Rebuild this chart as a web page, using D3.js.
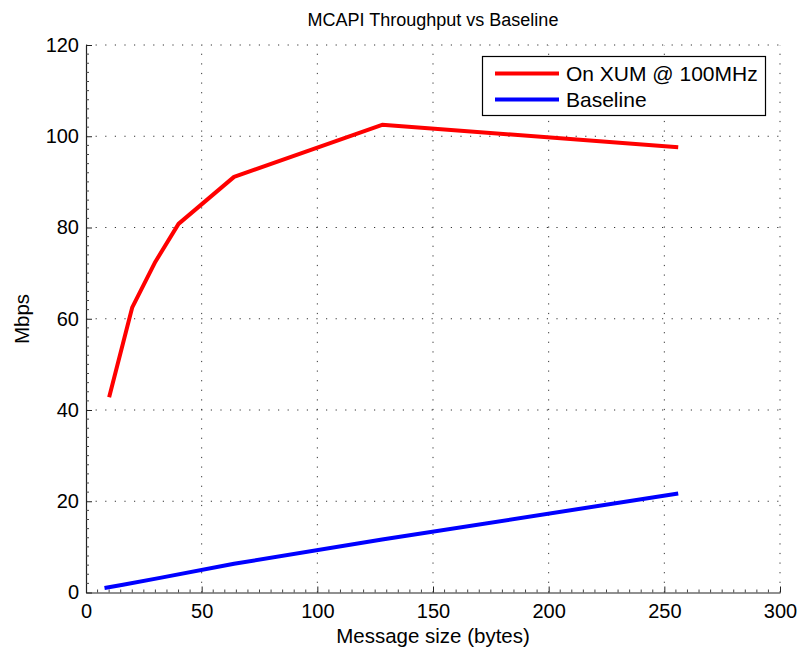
<!DOCTYPE html>
<html>
<head>
<meta charset="utf-8">
<script src="https://cdn.jsdelivr.net/npm/d3@7/dist/d3.min.js"></script>
<style>
  html, body { margin: 0; padding: 0; background: #fff; }
  svg { display: block; font-family: "Liberation Sans", Arial, sans-serif; }
</style>
</head>
<body>
<svg id="chart" width="804" height="656"></svg>
<script>
// ---- data ----
const redX = [10, 20, 30, 40, 64, 128, 256];
const redY = [42.8, 62.5, 72.5, 80.8, 91.1, 102.5, 97.6];
const blueX = [8, 16, 32, 64, 128, 256];
const blueY = [1.0, 1.7, 3.2, 6.3, 11.6, 21.7];
const xTicks = [0, 50, 100, 150, 200, 250, 300];
const yTicks = [0, 20, 40, 60, 80, 100, 120];
const seriesNames = ["On XUM @ 100MHz", "Baseline"];
const seriesColors = ["#ff0000", "#0000ff"];
const titleText = "MCAPI Throughput vs Baseline";
const xLabel = "Message size (bytes)";
const yLabel = "Mbps";

// ---- layout ----
const svg = d3.select("#chart");
const L = 86, R = 780, T = 45, B = 592.5;
const x = d3.scaleLinear().domain([0, 300]).range([L, R]);
const y = d3.scaleLinear().domain([0, 120]).range([B, T]);

// grid
const grid = svg.append("g").attr("stroke", "#333").attr("stroke-width", 1)
  .attr("stroke-dasharray", "1.2,8.4");
xTicks.slice(1).forEach(t => {
  grid.append("line").attr("x1", x(t)).attr("x2", x(t)).attr("y1", B).attr("y2", T);
});
yTicks.slice(1).forEach(t => {
  grid.append("line").attr("x1", L).attr("x2", R).attr("y1", y(t)).attr("y2", y(t));
});

// axes (MATLAB-like, inward ticks)
const xAxis = d3.axisBottom(x).tickValues(xTicks).tickSizeInner(-6).tickSizeOuter(0).tickPadding(11);
const gx = svg.append("g").attr("transform", `translate(0,${B})`).call(xAxis);
const yAxis = d3.axisLeft(y).tickValues(yTicks).tickSizeInner(-6).tickSizeOuter(0).tickPadding(7);
const gy = svg.append("g").attr("transform", `translate(${L},0)`).call(yAxis);
[gx, gy].forEach(g => {
  g.select(".domain").attr("stroke", "#222").attr("stroke-width", 1.2);
  g.selectAll(".tick line").attr("stroke", "#222");
  g.selectAll(".tick text").attr("fill", "#000").style("font-size", "20px")
    .style("font-family", "'Liberation Sans', Arial, sans-serif");
});
gx.selectAll(".tick text").attr("dy", "0.71em");

// minor ticks
const xMinor = d3.range(0, 301, 5).filter(v => v % 50 !== 0);
const yMinor = d3.range(0, 121, 2).filter(v => v % 20 !== 0);
const minor = svg.append("g").attr("stroke", "#444").attr("stroke-width", 1);
xMinor.forEach(v => minor.append("line").attr("x1", x(v)).attr("x2", x(v)).attr("y1", B).attr("y2", B - 3));
yMinor.forEach(v => minor.append("line").attr("x1", L).attr("x2", L + 3).attr("y1", y(v)).attr("y2", y(v)));

// lines
const line = d3.line().x(d => x(d[0])).y(d => y(d[1]));
const series = [
  d3.zip(redX, redY),
  d3.zip(blueX, blueY)
];
series.forEach((s, i) => {
  svg.append("path").datum(s).attr("d", line).attr("fill", "none")
    .attr("stroke", seriesColors[i]).attr("stroke-width", 4)
    .attr("stroke-linejoin", "round");
});

// title & labels
svg.append("text").attr("x", 433).attr("y", 26).attr("text-anchor", "middle")
  .style("font-size", "18px").attr("fill", "#000").text(titleText);
svg.append("text").attr("x", 433).attr("y", 643).attr("text-anchor", "middle")
  .style("font-size", "20.5px").attr("fill", "#000").text(xLabel);
svg.append("text").attr("transform", "translate(29,319) rotate(-90)").attr("text-anchor", "middle")
  .style("font-size", "20.5px").attr("fill", "#000").text(yLabel);

// legend
const lg = svg.append("g");
lg.append("rect").attr("x", 482.5).attr("y", 56.5).attr("width", 283).attr("height", 59)
  .attr("fill", "#fff").attr("stroke", "#000").attr("stroke-width", 1.2);
const rowY = [73.5, 99.5];
seriesNames.forEach((n, i) => {
  lg.append("line").attr("x1", 495).attr("x2", 559).attr("y1", rowY[i]).attr("y2", rowY[i])
    .attr("stroke", seriesColors[i]).attr("stroke-width", 4);
  lg.append("text").attr("x", 566).attr("y", rowY[i]).attr("dy", "0.36em")
    .style("font-size", "21px").attr("fill", "#000").text(n);
});
</script>
</body>
</html>
